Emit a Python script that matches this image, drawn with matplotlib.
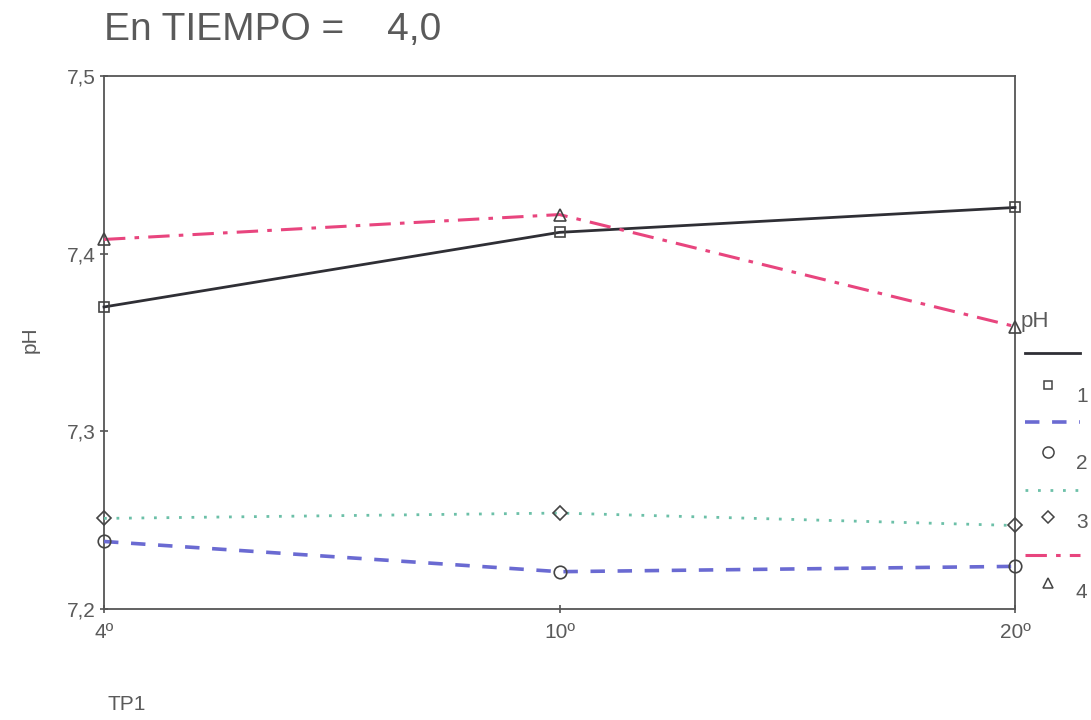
"""pH vs TP1 at TIEMPO = 4,0, SPSS-style line chart."""
import matplotlib

matplotlib.use("Agg")
import matplotlib.pyplot as plt
from matplotlib.lines import Line2D

plt.rcParams["font.family"] = ["Liberation Sans", "DejaVu Sans"]

W, H = 1091, 720

# Data
categories = ["4º", "10º", "20º"]
series_names = ["1", "2", "3", "4"]
ph_1 = [7.370, 7.412, 7.426]
ph_2 = [7.238, 7.221, 7.224]
ph_3 = [7.251, 7.254, 7.247]
ph_4 = [7.408, 7.422, 7.359]
y_ticks = [7.2, 7.3, 7.4, 7.5]
y_tick_labels = ["7,2", "7,3", "7,4", "7,5"]

# Styles
col_text = "#5a5a5a"
col_axis = "#555555"
col_marker = "#444444"
styles = [
    dict(color="#2f2f35", linestyle="-", linewidth=2.0, marker="s"),
    dict(color="#6a6ad2", linestyle=(0, (4, 3.5)), linewidth=2.6, marker="o"),
    dict(color="#6cc0a8", linestyle=(0, (1, 3.5)), linewidth=2.0, marker="D"),
    dict(color="#e8457e", linestyle=(0, (7, 3, 1.5, 3)), linewidth=2.2, marker="^"),
]
marker_sizes = [7, 9, 7, 8]


def px(x, y):
    """Pixel position in the reference image -> figure fraction."""
    return x / W, 1 - y / H


fig = plt.figure(figsize=(W / 100, H / 100), dpi=100)
left, top = px(104, 76)
right, bottom = px(1015, 609)
ax = fig.add_axes([left, bottom, right - left, top - bottom])

x = list(range(len(categories)))
for values, style, ms in zip([ph_1, ph_2, ph_3, ph_4], styles, marker_sizes):
    ax.plot(
        x,
        values,
        markersize=ms,
        markerfacecolor="none",
        markeredgecolor=col_marker,
        markeredgewidth=1.2,
        clip_on=False,
        zorder=3,
        **style,
    )

ax.set_xlim(0, len(categories) - 1)
ax.set_ylim(7.2, 7.5)
ax.set_xticks(x)
ax.set_xticklabels(categories)
ax.set_yticks(y_ticks)
ax.set_yticklabels(y_tick_labels)
ax.tick_params(
    axis="both", direction="inout", length=6, width=1.2, color=col_axis,
    labelcolor=col_text, labelsize=15, pad=3,
)
ax.tick_params(axis="x", pad=7)
for spine in ax.spines.values():
    spine.set_edgecolor(col_axis)
    spine.set_linewidth(1.3)

# Axis labels and title
fig.text(*px(30, 340), "pH", rotation=90, ha="center", va="center", fontsize=15, color=col_text)
fig.text(*px(108, 705), "TP1", ha="left", va="center", fontsize=15, color=col_text)
fig.text(*px(104, 30), "En TIEMPO =    4,0", ha="left", va="center", fontsize=28, color=col_text)

# Legend (title above, line sample then marker + label for each entry)
fig.text(*px(1021, 322), "pH", ha="left", va="center", fontsize=16, color=col_text)
line_rows = [353, 422, 490, 555]
marker_rows = [385, 452, 517, 583]
label_rows = [397, 463, 522, 593]
for name, style, ms, ly, my, ty in zip(series_names, styles, marker_sizes,
                                       line_rows, marker_rows, label_rows):
    x0, y0 = px(1025, ly)
    x1, _ = px(1080, ly)
    fig.add_artist(Line2D([x0, x1], [y0, y0], transform=fig.transFigure,
                          color=style["color"], linestyle=style["linestyle"],
                          linewidth=style["linewidth"]))
    mx, my_ = px(1048, my)
    fig.add_artist(Line2D([mx], [my_], transform=fig.transFigure, linestyle="none",
                          marker=style["marker"], markersize=ms - 1,
                          markerfacecolor="none", markeredgecolor=col_marker,
                          markeredgewidth=1.1))
    fig.text(*px(1076, ty), name, ha="left", va="center", fontsize=15, color=col_text)

fig.savefig("out.png", dpi=100, facecolor="white")
